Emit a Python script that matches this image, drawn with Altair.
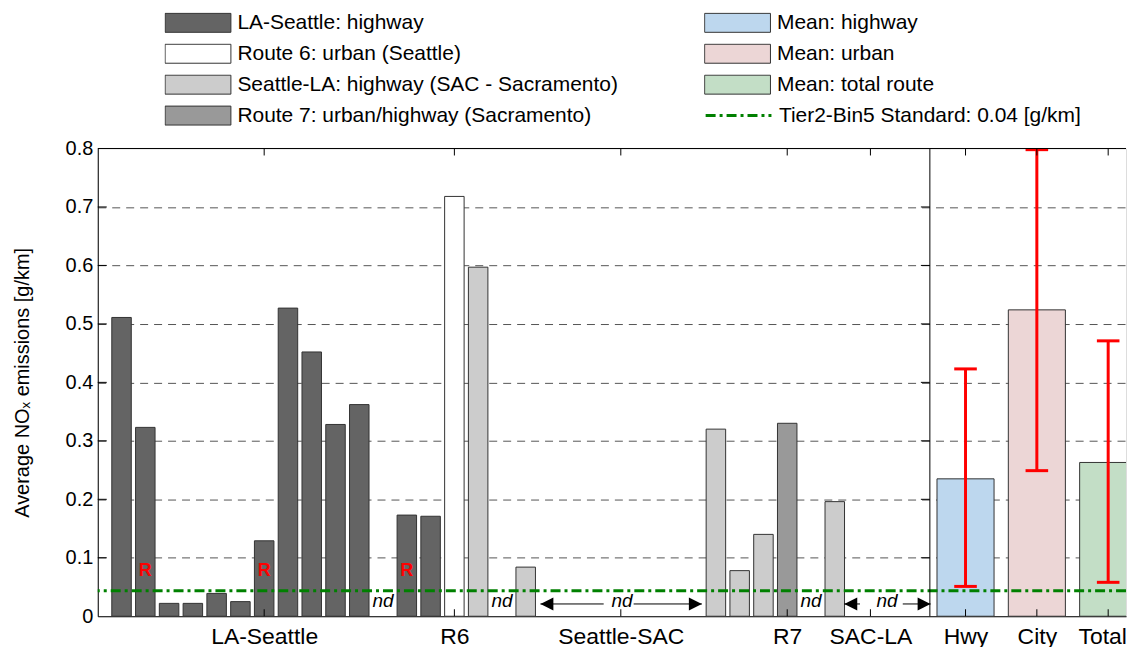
import altair as alt
import pandas as pd

# ---------------- data ----------------
LAS = "LA-Seattle: highway"
R6 = "Route 6: urban (Seattle)"
SLA = "Seattle-LA: highway (SAC - Sacramento)"
R7 = "Route 7: urban/highway (Sacramento)"
MH = "Mean: highway"
MU = "Mean: urban"
MT = "Mean: total route"
STD_LABEL = "Tier2-Bin5 Standard: 0.04 [g/km]"

# individual trips (slot index along the x axis, series, NOx value)
bar_slots = [1, 2, 3, 4, 5, 6, 7, 8, 9, 10, 11, 13, 14, 15, 16, 18, 26, 27, 28, 29, 31]
bar_series = [LAS, LAS, LAS, LAS, LAS, LAS, LAS, LAS, LAS, LAS, LAS,
              LAS, LAS, R6, SLA, SLA, SLA, SLA, SLA, R7, SLA]
bar_values = [0.511, 0.323, 0.022, 0.022, 0.039, 0.025, 0.129, 0.527, 0.452, 0.328, 0.362,
              0.173, 0.171, 0.718, 0.597, 0.084, 0.320, 0.078, 0.140, 0.330, 0.196]

# means with error bars
mean_series = [MH, MU, MT]
mean_pos = [36.5, 39.5, 42.5]
mean_values = [0.235, 0.524, 0.263]
err_low = [0.051, 0.249, 0.058]
err_high = [0.423, 0.798, 0.471]

# group labels on the x axis
group_names = ["LA-Seattle", "R6", "Seattle-SAC", "R7", "SAC-LA", "Hwy", "City", "Total"]
group_pos = [7, 15, 22, 29, 32.5, 36.5, 39.5, 42.5]

# annotations
r_slots = [2, 7, 13]
r_level = 0.077
nd_pos = [12, 17, 30, 22.05, 33.2]
nd_level = 0.026
# arrows: left tip, left end, right start, right tip
arrow_left_tip = [18.62, 31.40]
arrow_left_end = [21.28, 32.06]
arrow_right_start = [22.54, 33.86]
arrow_right_tip = [25.41, 35.03]
arrow_level = 0.021

standard = 0.0435
divider = 35
y_ticks = [0.1, 0.2, 0.3, 0.4, 0.5, 0.6, 0.7]
y_values = [0, 0.1, 0.2, 0.3, 0.4, 0.5, 0.6, 0.7, 0.8]
x_max = 43.25

# legend is filled column by column
legend_order = [LAS, R6, SLA, R7, MH, MU, MT]
legend_colors = ["#646464", "#ffffff", "#cccccc", "#999999", "#bdd7ee", "#ecd6d6", "#c3dec6"]

# ---------------- tables ----------------
half_bar = 0.41
half_mean = 1.2
half_cap = 0.475

bars = pd.DataFrame({"slot": bar_slots, "series": bar_series, "value": bar_values})
bars["x0"] = bars["slot"] - half_bar
bars["x1"] = bars["slot"] + half_bar

means = pd.DataFrame({"pos": mean_pos, "series": mean_series, "value": mean_values,
                      "lo": err_low, "hi": err_high})
means["x0"] = means["pos"] - half_mean
means["x1"] = means["pos"] + half_mean
means["c0"] = means["pos"] - half_cap
means["c1"] = means["pos"] + half_cap

caps = pd.concat([
    means[["c0", "c1"]].assign(y=means["lo"]),
    means[["c0", "c1"]].assign(y=means["hi"]),
])

groups = pd.DataFrame({"pos": group_pos, "name": group_names})
rlab = pd.DataFrame({"x": r_slots, "y": [r_level] * len(r_slots), "t": ["R"] * len(r_slots)})
ndlab = pd.DataFrame({"x": nd_pos, "y": [nd_level] * len(nd_pos), "t": ["nd"] * len(nd_pos)})
arrow_lines = pd.DataFrame({
    "a": arrow_left_tip + arrow_right_start,
    "b": arrow_left_end + arrow_right_tip,
    "y": [arrow_level] * 4,
})
heads_left = pd.DataFrame({"x": arrow_left_tip, "y": [arrow_level] * 2})
heads_right = pd.DataFrame({"x": arrow_right_tip, "y": [arrow_level] * 2})
std_df = pd.DataFrame({"y": [standard], "lab": [STD_LABEL]})
ytick_df = pd.DataFrame({"y": y_ticks})
top_df = pd.DataFrame({"y": [0.8]})

# ---------------- chart ----------------
W = 1031
H = 469
FONT = "Liberation Sans, Arial, sans-serif"
LEG_Y = -136.5
ROW = 31

xscale = alt.Scale(domain=[0, x_max], nice=False, zero=False)
yscale = alt.Scale(domain=[0, 0.8], nice=False)

label_expr = " : ".join(
    f"datum.value == {p} ? '{n}'" for p, n in zip(group_pos, group_names)
) + " : ''"

x_axis = alt.Axis(values=group_pos, labelExpr=label_expr, ticks=False, grid=False,
                  labelFontSize=23, labelPadding=9, labelColor="black", domainColor="black",
                  labelOffset=alt.condition("datum.value > 42", alt.value(-6), alt.value(0)),
                  labelOverlap=False, labelBound=False, labelFlush=False, title=None)
y_axis = alt.Axis(values=y_values, format=".1~f", ticks=False, grid=True,
                  gridDash=[8, 6], gridColor="#555555",
                  gridOpacity=alt.condition("datum.value < 0.05 || datum.value > 0.75",
                                            alt.value(0), alt.value(1)),
                  labelFontSize=20, labelPadding=5, labelColor="black",
                  domainColor="black", title="Average NOₓ emissions [g/km]",
                  titleFontSize=20, titleFontWeight="normal", titleColor="black",
                  titlePadding=33)

fill_legend = alt.Legend(
    orient="none", legendX=67, legendY=LEG_Y, columns=2, columnPadding=86,
    rowPadding=9, clipHeight=21, symbolType="M-1,-0.288H1V0.288H-1Z", symbolSize=4356,
    symbolStrokeColor="#333333", symbolStrokeWidth=1, labelFontSize=21,
    labelLimit=600, labelOffset=6, labelColor="black", title=None, padding=0,
)
fill_enc = alt.Fill("series:N", scale=alt.Scale(domain=legend_order, range=legend_colors),
                    legend=fill_legend)

bar_layer = alt.Chart(bars).mark_rect(stroke="#333333", strokeWidth=1).encode(
    x=alt.X("x0:Q", scale=xscale, axis=x_axis),
    x2="x1:Q",
    y=alt.Y("value:Q", scale=yscale, axis=y_axis),
    y2=alt.datum(0),
    fill=fill_enc,
)

mean_layer = alt.Chart(means).mark_rect(stroke="#333333", strokeWidth=1, clip=True).encode(
    x="x0:Q", x2="x1:Q", y="value:Q", y2=alt.datum(0), fill=fill_enc,
)

std_layer = alt.Chart(std_df).mark_rule(strokeDash=[10, 4, 3, 4], strokeWidth=3).encode(
    y="y:Q",
    stroke=alt.Stroke("lab:N", scale=alt.Scale(domain=[STD_LABEL], range=["#008000"]),
                      legend=alt.Legend(orient="none", legendX=608, legendY=LEG_Y + 3 * ROW,
                                        clipHeight=21,
                                        symbolType="stroke", symbolSize=4356,
                                        symbolStrokeWidth=3, symbolDash=[10, 4, 3, 4],
                                        labelFontSize=21, labelLimit=600, labelOffset=6,
                                        labelColor="black", title=None, padding=0)),
)

err_layer = alt.Chart(means).mark_rule(color="red", strokeWidth=3).encode(
    x="pos:Q", y="lo:Q", y2="hi:Q")
cap_layer = alt.Chart(caps).mark_rule(color="red", strokeWidth=3).encode(
    x="c0:Q", x2="c1:Q", y="y:Q")

divider_layer = alt.Chart(pd.DataFrame({"x": [divider]})).mark_rule(
    color="black", strokeWidth=1).encode(x="x:Q")
top_layer = alt.Chart(top_df).mark_rule(color="black", strokeWidth=1).encode(y="y:Q")

left_ticks = alt.Chart(ytick_df).mark_rule(color="black").encode(
    y="y:Q", x=alt.value(0), x2=alt.value(9))
div_ticks = alt.Chart(ytick_df).mark_rule(color="black", x2Offset=-9).encode(
    y="y:Q", x=alt.datum(divider), x2=alt.datum(divider))
top_ticks = alt.Chart(groups).mark_rule(color="black").encode(
    x="pos:Q", y=alt.value(0), y2=alt.value(7))
bottom_ticks = alt.Chart(groups).mark_rule(color="black").encode(
    x="pos:Q", y=alt.value(H), y2=alt.value(H - 7))

r_layer = alt.Chart(rlab).mark_text(color="red", fontWeight="bold", fontSize=18,
                                    baseline="middle").encode(x="x:Q", y="y:Q", text="t:N")
nd_layer = alt.Chart(ndlab).mark_text(color="black", fontStyle="italic", fontSize=19,
                                      baseline="middle").encode(x="x:Q", y="y:Q", text="t:N")
arrow_layer = alt.Chart(arrow_lines).mark_rule(color="black", strokeWidth=1).encode(
    x="a:Q", x2="b:Q", y="y:Q")
head_l = alt.Chart(heads_left).mark_point(shape="M0,0L1,-0.5L1,0.5Z", size=676, filled=True,
                                          color="black", opacity=1).encode(x="x:Q", y="y:Q")
head_r = alt.Chart(heads_right).mark_point(shape="M0,0L-1,-0.5L-1,0.5Z", size=676, filled=True,
                                           color="black", opacity=1).encode(x="x:Q", y="y:Q")

chart = alt.layer(
    bar_layer, mean_layer, std_layer, err_layer, cap_layer, divider_layer, top_layer,
    left_ticks, div_ticks, top_ticks, bottom_ticks, r_layer, nd_layer,
    arrow_layer, head_l, head_r,
).resolve_scale(fill="shared").properties(
    width=W, height=H,
    padding={"left": 4, "top": 3, "right": 0, "bottom": 5},
).configure_view(stroke=None).configure(font=FONT)

chart.save("out.html", embed_options={"renderer": "svg", "actions": False})
